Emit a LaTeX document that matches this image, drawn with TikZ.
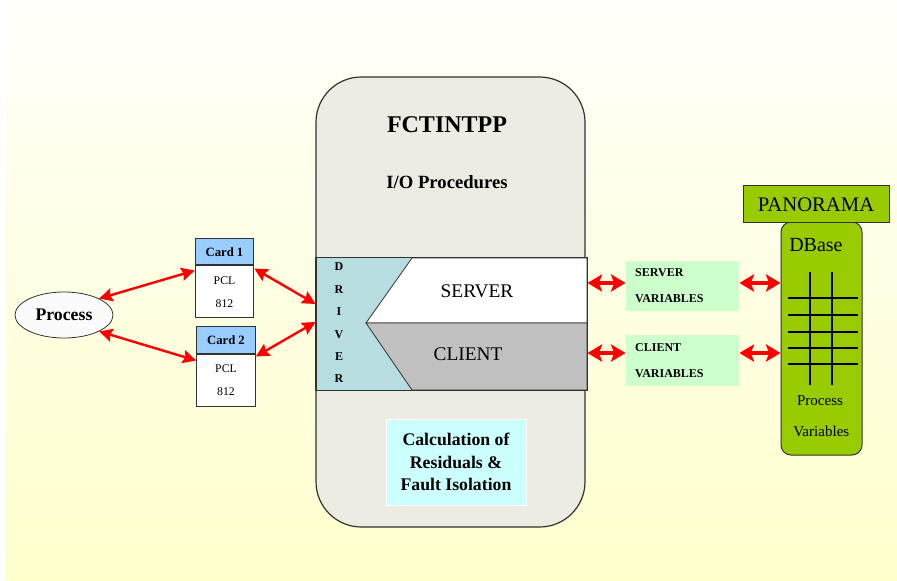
\documentclass[tikz,border=0pt]{standalone}
\usepackage{fontspec}
\setmainfont{Liberation Serif}
\usetikzlibrary{arrows.meta,shapes.geometric,calc}
\definecolor{bgtop}{RGB}{255,255,250}
\definecolor{bgbot}{RGB}{255,255,204}
\definecolor{mainfill}{RGB}{236,236,226}
\definecolor{drvblue}{RGB}{183,221,224}
\definecolor{clgray}{RGB}{192,192,192}
\definecolor{cardblue}{RGB}{153,204,255}
\definecolor{pgreen}{RGB}{153,204,0}
\definecolor{vgreen}{RGB}{204,255,204}
\definecolor{calccyan}{RGB}{204,255,255}
\definecolor{edge}{RGB}{50,50,50}
\tikzset{
  arrA/.style={draw=red, line width=1.8pt, {Stealth[length=10pt,width=10pt,inset=1.5pt]}-{Stealth[length=10pt,width=10pt,inset=1.5pt]}},
  arrB/.style={draw=red, line width=2.6pt, {Stealth[length=11pt,width=13pt,inset=2.5pt]}-{Stealth[length=11pt,width=13pt,inset=2.5pt]}},
  cardhead/.style={draw=edge, line width=0.75pt, fill=cardblue, minimum width=44pt, minimum height=19.5pt, inner sep=0pt, font=\bfseries\fontsize{9.5}{9.5}\selectfont},
  cardbody/.style={draw=edge, line width=0.75pt, fill=white, minimum width=44pt, minimum height=39pt, inner sep=0pt, align=center, font=\fontsize{8.8}{17}\selectfont},
  varbox/.style={fill=vgreen, minimum width=85pt, minimum height=37.5pt, inner xsep=6.75pt, text width=71pt, align=left, font=\bfseries\fontsize{9}{19.5}\selectfont},
}
\begin{document}
\begin{tikzpicture}[x=0.75pt,y=-0.75pt]
\useasboundingbox (0,0) rectangle (897,581);
\fill[white] (0,0) rectangle (897,581);
\shade[top color=bgtop, bottom color=bgbot] (5,0) rectangle (897,581);

% main rounded box
\node[draw=edge, line width=0.9pt, fill=mainfill, rounded corners=34pt, minimum width=201.75pt, minimum height=337.5pt, inner sep=0pt] (main) at (450.5,302) {};
\node[font=\bfseries\fontsize{18}{18}\selectfont] (title) at (447,125) {FCTINTPP};
\node[font=\bfseries\fontsize{14}{14}\selectfont] (io) at (447,182) {I/O Procedures};

% driver panel
\node[draw=edge, line width=0.75pt, fill=drvblue, minimum width=203.25pt, minimum height=99pt, inner sep=0pt] (drv) at (451.5,324) {};
\filldraw[fill=white, draw=edge, line width=0.6pt] (412,258) -- (587,258) -- (587,323) -- (366,323) -- cycle;
\filldraw[fill=clgray, draw=edge, line width=0.6pt] (366,323) -- (587,323) -- (587,390) -- (412,390) -- cycle;
\draw[edge, line width=0.75pt] (drv.south west) rectangle (drv.north east);
\node[align=center, font=\bfseries\fontsize{9}{16.8}\selectfont] (drvtxt) at (339,323) {D\\R\\I\\V\\E\\R};
\node[font=\fontsize{14.5}{14.5}\selectfont] (srv) at (477,291) {SERVER};
\node[font=\fontsize{14.5}{14.5}\selectfont] (cli) at (468,354) {CLIENT};

% calculation box
\node[fill=calccyan, draw=white, line width=0.5pt, minimum width=105pt, minimum height=64.5pt, align=center, font=\bfseries\fontsize{13.3}{17}\selectfont] (calc) at (456,462) {Calculation of\\Residuals \&\\Fault Isolation};

% process
\node[ellipse, draw=edge, line width=0.6pt, fill=white!97!gray, minimum width=73.5pt, minimum height=34.5pt, inner sep=0pt, font=\bfseries\fontsize{13.3}{13.3}\selectfont] (proc) at (64,315) {Process};

% cards
\node[cardhead] (c1h) at (224.5,252) {Card 1};
\node[cardbody, anchor=north] (c1b) at (c1h.south) {PCL\\812};
\node[cardhead] (c2h) at (226,340) {Card 2};
\node[cardbody, anchor=north] (c2b) at (c2h.south) {PCL\\812};

% variables boxes
\node[varbox] (svar) at (682.5,286) {SERVER\\VARIABLES};
\node[varbox] (cvar) at (682.5,360.5) {CLIENT\\VARIABLES};

% DBase and panorama
\node[draw=edge, line width=0.75pt, fill=pgreen, rounded corners=7.5pt, minimum width=60.75pt, minimum height=174.75pt, inner sep=0pt] (db) at (821.5,338.5) {};
\node[draw=edge, line width=0.75pt, fill=pgreen, minimum width=109.5pt, minimum height=27.75pt, inner sep=0pt, font=\fontsize{15.5}{15.5}\selectfont] (pan) at (816,204.5) {PANORAMA};
\node[anchor=west, font=\fontsize{15}{15}\selectfont, inner sep=0pt] (dbt) at (789,245) {DBase};
\begin{scope}[line width=0.9pt, black]
  \draw (810,272) -- (810,385);
  \draw (832,272) -- (832,385);
  \foreach \yy in {298,315,332,348,364} \draw (788,\yy) -- (858,\yy);
\end{scope}
\node[anchor=west, align=left, font=\fontsize{11.3}{23.25}\selectfont, inner sep=0pt] (pv) at (793,416.5) {\ Process\\Variables};

% connectors
\draw[arrA] (proc.25) -- ([yshift=-3.75pt]c1b.north west);
\draw[arrA] (proc.-25) -- ([yshift=-5.25pt]c2b.north west);
\draw[arrA] ([yshift=-2.25pt]c1b.north east) -- ([yshift=15pt]drv.west);
\draw[arrA] ([yshift=-2.25pt]c2b.north east) -- ([yshift=1.5pt]drv.west);
\draw[arrB] ([yshift=2.25pt]svar.west) -- ([yshift=2.25pt]svar.west -| drv.east);
\draw[arrB] ([yshift=5.6pt]cvar.west) -- ([yshift=5.6pt]cvar.west -| drv.east);
\draw[arrB] ([yshift=2.25pt]svar.east) -- ([yshift=2.25pt]svar.east -| db.west);
\draw[arrB] ([yshift=5.6pt]cvar.east) -- ([yshift=5.6pt]cvar.east -| db.west);
\end{tikzpicture}
\end{document}
